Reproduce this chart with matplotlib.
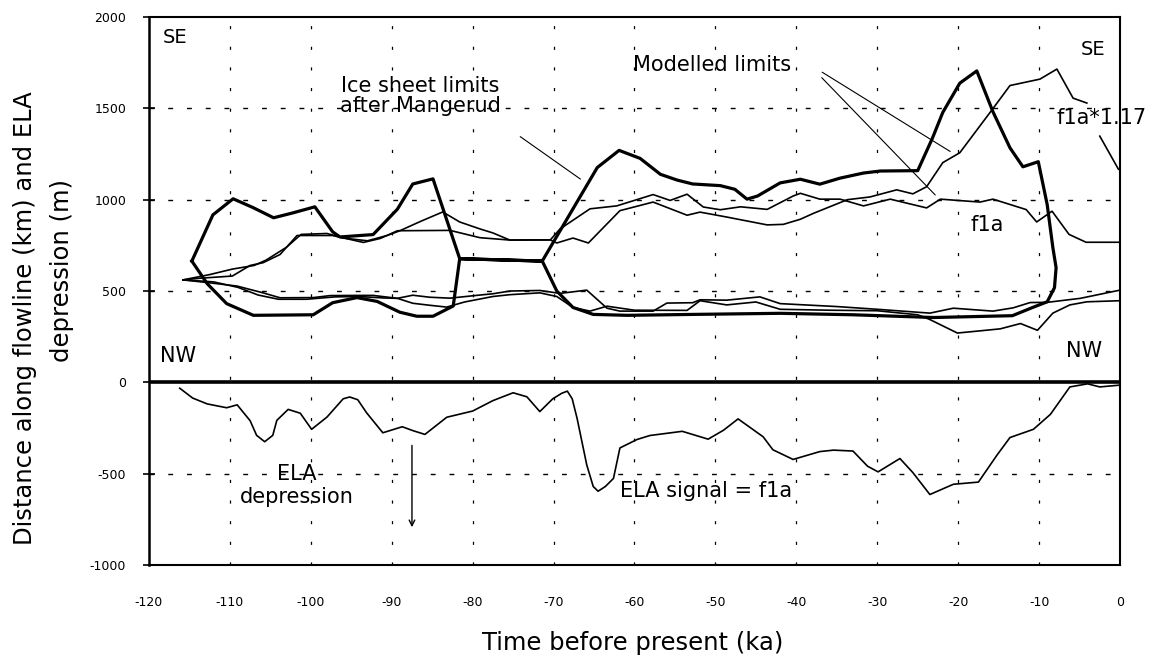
import numpy as np
import matplotlib
matplotlib.use('Agg')
import matplotlib.pyplot as plt

# ELA depression signal (f1a), metres
ela_time = [-116.2, -114.6, -112.8, -110.4, -109.1, -107.5, -106.7, -105.7, -104.7, -104.2,
            -102.8, -101.3, -99.9, -98.0, -96.0, -95.2, -94.2, -93.1, -91.1, -88.7,
            -87.4, -85.9, -83.2, -80.0, -77.5, -75.0, -73.3, -71.7, -70.1, -69.0,
            -68.3, -67.7, -67.1, -65.9, -65.1, -64.5, -63.6, -62.6, -61.8, -59.7,
            -58.1, -54.1, -50.9, -49.0, -47.2, -44.1, -42.9, -40.4, -37.1, -35.4,
            -33.0, -31.2, -29.9, -27.2, -25.6, -23.5, -20.6, -17.5, -15.2, -13.6,
            -10.7, -8.6, -6.2, -4.0, -2.5, 0.0]
ela_depr = [-32, -86, -118, -139, -123, -210, -290, -325, -290, -208,
            -148, -169, -257, -190, -90, -80, -95, -167, -276, -243,
            -264, -285, -191, -157, -100, -57, -79, -160, -90, -60,
            -48, -90, -196, -452, -570, -596, -570, -526, -359, -313,
            -291, -268, -311, -262, -200, -298, -369, -422, -379, -371,
            -376, -459, -490, -417, -494, -614, -558, -546, -398, -302,
            -257, -175, -25, -8, -25, -15]

# ice sheet limits after Mangerud (one closed outline, km)
mang_time = [-114.7, -112.1, -109.6, -107.1, -104.6, -102.2, -99.5, -97.3, -96.4, -92.3,
             -89.3, -87.4, -84.9, -81.6, -71.4, -64.6, -61.9, -59.3, -56.8, -54.7,
             -52.8, -49.4, -47.6, -46.1, -44.8, -42.0, -39.5, -37.1, -34.6, -31.7,
             -29.6, -25.0, -23.2, -21.9, -19.8, -17.7, -15.7, -13.6, -12.0, -10.1,
             -9.0, -8.3, -7.9, -8.1, -9.0, -10.8, -13.3, -23.0, -33.0, -42.0,
             -52.8, -60.9, -65.1, -67.6, -69.6, -71.4, -81.6, -82.4, -84.9, -86.9,
             -89.0, -91.8, -94.3, -97.3, -99.7, -107.1, -110.4, -112.8, -114.7]
mang_dist = [664, 917, 1005, 956, 901, 928, 961, 824, 796, 809,
             948, 1086, 1114, 677, 664, 1176, 1270, 1226, 1139, 1107,
             1086, 1077, 1057, 1003, 1020, 1092, 1112, 1085, 1118, 1146,
             1157, 1159, 1335, 1478, 1638, 1705, 1481, 1284, 1180, 1208,
             973, 738, 628, 518, 441, 410, 365, 355, 370, 378,
             372, 367, 372, 410, 500, 664, 677, 418, 362, 362,
             384, 443, 464, 436, 370, 367, 431, 540, 664]

# modelled limits, SE side, f1a*1.17 (gap where the label sits)
se117_time = [-115.8, -113.7, -109.7, -107.5, -105.9, -103.8, -101.7, -97.3, -93.5, -91.4,
              -89.3, -82.8, -79.1, -75.4, -70.4, -69.6, -67.6, -65.7, -61.8, -57.7,
              -53.5, -51.9, -48.6, -43.6, -41.6, -39.5, -37.9, -33.7, -30.9, -27.6,
              -25.6, -23.9, -21.9, -19.8, -15.7, -13.6, -9.9, -7.8, -5.8, -4.1,
              -3.3, -2.5, -0.2]
se117_dist = [561, 570, 582, 640, 655, 700, 804, 804, 766, 788,
              830, 832, 792, 779, 780, 763, 790, 763, 940, 987,
              915, 932, 905, 862, 865, 893, 925, 1000, 1015, 1054,
              1032, 1071, 1203, 1257, 1499, 1625, 1660, 1715, 1556, 1529,
              np.nan, 1348, 1167]

# modelled limits, SE side, f1a
se_time = [-115.8, -112.5, -109.7, -107.0, -105.5, -103.0, -101.2, -98.0, -96.0, -93.0,
           -90.5, -89.0, -86.5, -83.7, -81.6, -79.1, -77.5, -75.4, -70.4, -69.2,
           -65.5, -62.2, -57.7, -55.6, -53.5, -51.5, -49.4, -46.9, -43.6, -40.4,
           -39.5, -37.1, -34.6, -31.7, -28.4, -23.9, -22.2, -17.3, -15.7, -11.6,
           -10.3, -8.4, -6.3, -4.2, 0.0]
se_dist = [561, 590, 620, 640, 670, 740, 810, 815, 790, 775,
           805, 830, 880, 933, 878, 840, 818, 779, 780, 840,
           950, 966, 1028, 996, 1030, 960, 945, 961, 947, 1020,
           1035, 1003, 1003, 966, 1003, 955, 1003, 987, 1003, 946,
           878, 937, 810, 767, 767]

# modelled limits, NW side
nw_time = [-115.8, -112.5, -109.1, -105.9, -103.8, -99.7, -97.6, -94.3, -92.3, -89.3,
           -87.4, -85.3, -82.8, -79.1, -77.5, -75.4, -71.7, -69.2, -65.9, -63.4,
           -61.8, -57.7, -56.0, -52.8, -51.9, -48.6, -44.5, -42.0, -35.0, -30.0,
           -23.5, -20.6, -15.7, -13.2, -11.1, -9.0, -4.9, 0.0]
nw_dist = [561, 545, 527, 490, 463, 464, 475, 476, 476, 460,
           477, 466, 461, 478, 485, 500, 503, 487, 505, 406,
           390, 390, 434, 436, 452, 450, 468, 431, 415, 400,
           379, 406, 390, 408, 437, 438, 460, 505]

nw117_time = [-115.8, -112.0, -109.0, -106.5, -104.0, -100.5, -97.0, -94.0, -91.0, -89.3,
              -87.4, -85.3, -83.2, -81.0, -77.5, -75.4, -71.7, -69.6, -67.6, -65.5,
              -63.4, -60.0, -53.5, -51.9, -48.6, -45.0, -42.0, -36.0, -30.0, -25.0,
              -23.5, -20.1, -17.3, -14.8, -12.3, -10.2, -8.3, -6.2, -4.1, 0.0]
nw117_dist = [561, 550, 520, 478, 455, 455, 468, 470, 462, 460,
              433, 422, 412, 440, 470, 480, 490, 470, 410, 390,
              417, 395, 394, 447, 424, 440, 400, 395, 392, 370,
              344, 270, 282, 293, 322, 285, 379, 424, 441, 447]

x_ticks = [-120, -110, -100, -90, -80, -70, -60, -50, -40, -30, -20, -10, 0]
y_ticks = [2000, 1500, 1000, 500, 0, -500, -1000]

FS = 15


def _frame(ax):
  ax.set_xlim(-120, 0)
  ax.set_ylim(-1000, 2000)
  ax.set_xticks(x_ticks)
  ax.set_xticklabels([str(t) for t in x_ticks])
  ax.set_yticks(y_ticks)
  ax.set_yticklabels([str(t) for t in y_ticks])
  ax.tick_params(axis='x', length=0, pad=22, labelsize=9)
  ax.tick_params(axis='y', direction='inout', length=9, width=1.2, pad=12, labelsize=9)
  for s in ax.spines.values():
    s.set_linewidth(1.5)
  ax.spines['left'].set_linewidth(1.8)

  for v in [1500, 1000, 500, -500]:
    ax.axhline(v, color='black', lw=1.0, linestyle=(0, (3.5, 10)), zorder=1)
  for t in x_ticks[1:-1]:
    ax.axvline(t, color='black', lw=0.9, linestyle=(0, (2.5, 14)), zorder=1)
  ax.axhline(0, color='black', lw=2.6, zorder=3)


def _annotate(ax):
  ax.text(-118.3, 1890, 'SE', fontsize=FS - 1, va='center')
  ax.text(-4.9, 1823, 'SE', fontsize=FS - 1, va='center')
  ax.text(-118.6, 144, 'NW', fontsize=FS, va='center')
  ax.text(-6.7, 170, 'NW', fontsize=FS, va='center')

  ax.text(-86.5, 1568, 'Ice sheet limits\nafter Mangerud', fontsize=FS,
          ha='center', va='center', linespacing=1.0)
  ax.annotate('', xy=(-66.4, 1104), xytext=(-74.4, 1354),
              arrowprops=dict(arrowstyle='-', lw=0.8, color='black'))

  ax.text(-50.4, 1740, 'Modelled limits', fontsize=FS, ha='center', va='center')
  ax.annotate('', xy=(-20.7, 1256), xytext=(-37.1, 1706),
              arrowprops=dict(arrowstyle='-', lw=0.8, color='black'))
  ax.annotate('', xy=(-22.6, 1015), xytext=(-37.1, 1679),
              arrowprops=dict(arrowstyle='-', lw=0.8, color='black'))

  ax.text(-7.8, 1447, 'f1a*1.17', fontsize=FS, va='center')
  ax.text(-18.5, 862, 'f1a', fontsize=FS, va='center')

  ax.text(-101.7, -564, 'ELA\ndepression', fontsize=FS, ha='center', va='center',
          linespacing=1.15)
  ax.annotate('', xy=(-87.5, -808), xytext=(-87.5, -330),
              arrowprops=dict(arrowstyle='->', lw=1.0, color='black'))
  ax.text(-61.8, -595, 'ELA signal = f1a', fontsize=FS, va='center')


def plot(out='out.png'):
  fig = plt.figure(figsize=(11.53, 6.60), dpi=100)
  ax = fig.add_axes([0.1292, 0.1439, 0.8422, 0.8303])

  _frame(ax)

  thin = dict(color='black', lw=1.2, zorder=4, solid_joinstyle='round')
  ax.plot(se_time, se_dist, **thin)
  ax.plot(se117_time, se117_dist, **thin)
  ax.plot(nw_time, nw_dist, **thin)
  ax.plot(nw117_time, nw117_dist, **thin)
  ax.plot(ela_time, ela_depr, **thin)
  ax.plot(mang_time, mang_dist, 'k-', lw=2.3, zorder=5, solid_joinstyle='round')

  _annotate(ax)

  fig.text(633 / 1153, 1 - 643 / 660, 'Time before present (ka)', fontsize=17.5,
           ha='center', va='center')
  fig.text(25 / 1153, 1 - 318 / 660, 'Distance along flowline (km) and ELA', fontsize=17.5,
           ha='center', va='center', rotation=90)
  fig.text(62 / 1153, 1 - 271 / 660, 'depression (m)', fontsize=17.5,
           ha='center', va='center', rotation=90)

  fig.savefig(out, dpi=100)


if __name__ == "__main__":
  plot()
